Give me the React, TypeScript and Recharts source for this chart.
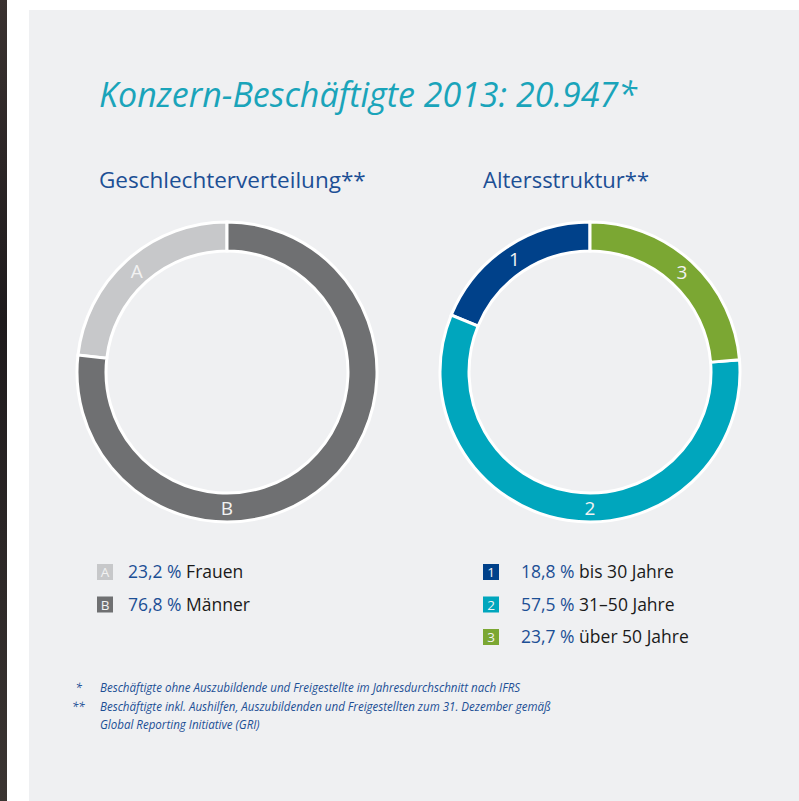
import { PieChart, Pie, Cell } from "recharts";

const genderKeys = ["A", "B"];
const genderValues = [23.2, 76.8];
const genderNames = ["Frauen", "Männer"];
const genderColors = ["#c7c8ca", "#6f7072"];

const ageKeys = ["1", "2", "3"];
const ageValues = [18.8, 57.5, 23.7];
const ageNames = ["bis 30 Jahre", "31–50 Jahre", "über 50 Jahre"];
const ageColors = ["#00418a", "#00a6bd", "#7ba733"];

const title = "Konzern-Beschäftigte 2013: 20.947*";
const subtitles = ["Geschlechterverteilung**", "Altersstruktur**"];
const footnotes = [
  ["*", "Beschäftigte ohne Auszubildende und Freigestellte im Jahresdurchschnitt nach IFRS"],
  ["**", "Beschäftigte inkl. Aushilfen, Auszubildenden und Freigestellten zum 31. Dezember gemäß"],
  ["", "Global Reporting Initiative (GRI)"],
];

const FONT = "'Open Sans', sans-serif";
const BLUE = "#1c4f95";
const RAD = Math.PI / 180;
const FN_SCALE = 0.855;

const fmt = (v: number) => v.toFixed(1).replace(".", ",") + " %";

const genderData = genderKeys.map((k, i) => ({ key: k, value: genderValues[i], name: genderNames[i] }));
const ageData = ageKeys.map((k, i) => ({ key: k, value: ageValues[i], name: ageNames[i] }));

// big segments get their label at the bottom of the ring, the rest at the middle
const ringLabel = (props: any) => {
  const { cx, cy, innerRadius, outerRadius, startAngle, endAngle, midAngle, payload } = props;
  const lo = Math.min(startAngle, endAngle);
  const hi = Math.max(startAngle, endAngle);
  const a = lo <= 270 && hi >= 270 ? 270 : midAngle;
  const r = (innerRadius + outerRadius) / 2;
  const x = cx + r * Math.cos(-a * RAD);
  const y = cy + r * Math.sin(-a * RAD);
  return (
    <text x={x} y={y} fill="#f2f2f2" fontSize={19} fontFamily={FONT} textAnchor="middle" dominantBaseline="central">
      {payload.key}
    </text>
  );
};

function Donut({ data, colors, left }: { data: any[]; colors: string[]; left: number }) {
  return (
    <div style={{ position: "absolute", left, top: 202 }}>
      <PieChart width={340} height={340} margin={{ top: 0, right: 0, bottom: 0, left: 0 }}>
        <Pie
          data={data}
          dataKey="value"
          cx={170}
          cy={170}
          innerRadius={121}
          outerRadius={150}
          startAngle={90}
          endAngle={450}
          stroke="#ffffff"
          strokeWidth={3}
          label={ringLabel}
          labelLine={false}
          isAnimationActive={false}
        >
          {data.map((d, i) => (
            <Cell key={d.key} fill={colors[i]} />
          ))}
        </Pie>
      </PieChart>
    </div>
  );
}

function Legend({ data, colors, x, y0, textX }: { data: any[]; colors: string[]; x: number; y0: number; textX: number }) {
  return (
    <g>
      {data.map((d, i) => {
        const y = y0 + i * 32.5;
        return (
          <g key={d.key}>
            <rect x={x} y={y - 15} width={16} height={16} fill={colors[i]} />
            <text x={x + 8} y={y - 2} fill="#f2f2f2" fontSize={13.5} fontFamily={FONT} textAnchor="middle">
              {d.key}
            </text>
            <text x={textX} y={y - 1} fontSize={17.5} fontFamily={FONT}>
              <tspan fill={BLUE}>{fmt(d.value)}</tspan>
              <tspan fill="#1a1a1a"> {d.name}</tspan>
            </text>
          </g>
        );
      })}
    </g>
  );
}

export default function App() {
  return (
    <div style={{ position: "absolute", left: 0, top: 0, width: 799, height: 801, background: "#ffffff", overflow: "hidden" }}>
      <div style={{ position: "absolute", left: 0, top: 0, width: 7, height: 801, background: "linear-gradient(#3a3230, #1e1a1c 40%, #3b3532)" }} />
      <div style={{ position: "absolute", left: 29, top: 10, width: 770, height: 791, background: "#eff0f2" }} />
      <svg width={799} height={801} style={{ position: "absolute", left: 0, top: 0 }}>
        <text x={99} y={107} fill="#1aa4ba" fontSize={34} fontStyle="italic" fontFamily={FONT}>
          {title}
        </text>
        <text x={99} y={188} fill={BLUE} fontSize={22.5} fontFamily={FONT}>
          {subtitles[0]}
        </text>
        <text x={483} y={188} fill={BLUE} fontSize={22} fontFamily={FONT}>
          {subtitles[1]}
        </text>
        <Legend data={genderData} colors={genderColors} x={97} y0={579} textX={128} />
        <Legend data={ageData} colors={ageColors} x={483} y0={579} textX={521} />
      </svg>
      <div
        style={{
          position: "absolute",
          left: 72,
          top: 678,
          fontFamily: FONT,
          fontStyle: "italic",
          fontSize: 13.5,
          lineHeight: "18.5px",
          color: BLUE,
          whiteSpace: "nowrap",
          transform: `scaleX(${FN_SCALE})`,
          transformOrigin: "0 0",
        }}
      >
        {footnotes.map(([m, t], i) => (
          <div key={i} style={{ display: "flex" }}>
            <span style={{ width: 28 / FN_SCALE, paddingLeft: m.length === 1 ? 4 : 0, boxSizing: "border-box" }}>{m}</span>
            <span>{t}</span>
          </div>
        ))}
      </div>
      <Donut data={genderData} colors={genderColors} left={57} />
      <Donut data={ageData} colors={ageColors} left={420} />
    </div>
  );
}
